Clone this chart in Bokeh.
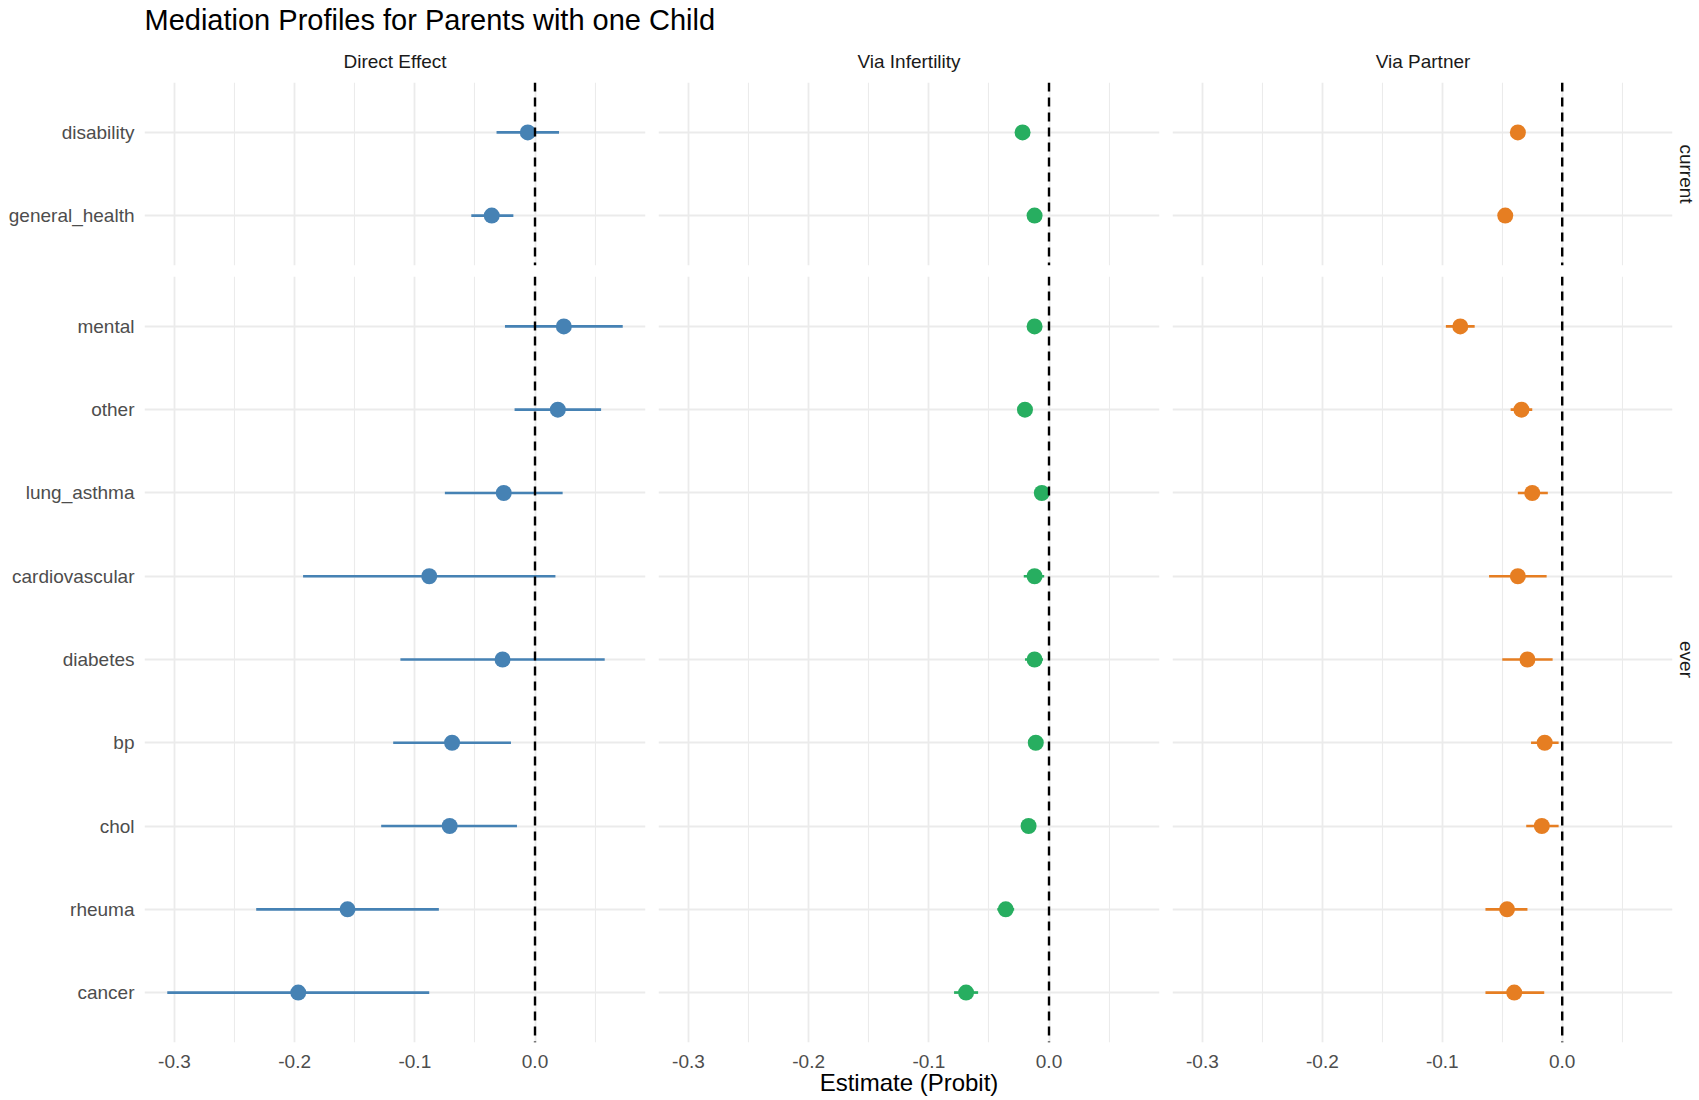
from bokeh.plotting import figure
from bokeh.layouts import column, row
from bokeh.models import (FactorRange, Range1d, Span, FixedTicker,
                          PrintfTickFormatter, Title, ColumnDataSource)
from bokeh.embed import file_html
from bokeh.resources import INLINE
from bokeh.core.properties import value

# ---------------- data ----------------
title_text = "Mediation Profiles for Parents with one Child"
x_axis_title = "Estimate (Probit)"
panels = ["Direct Effect", "Via Infertility", "Via Partner"]
panel_colors = ["#4682B4", "#27AE60", "#E67E22"]
groups = ["current", "ever"]
current_items = ["disability", "general_health"]
ever_items = ["mental", "other", "lung_asthma", "cardiovascular", "diabetes",
              "bp", "chol", "rheuma", "cancer"]
x_ticks = [-0.3, -0.2, -0.1, 0.0]
x_minor_ticks = [-0.25, -0.15, -0.05, 0.05]

# Direct Effect
direct_current_est = [-0.006, -0.036]
direct_current_lo = [-0.032, -0.053]
direct_current_hi = [0.020, -0.018]
direct_ever_est = [0.024, 0.019, -0.026, -0.088, -0.027, -0.069, -0.071, -0.156, -0.197]
direct_ever_lo = [-0.025, -0.017, -0.075, -0.193, -0.112, -0.118, -0.128, -0.232, -0.306]
direct_ever_hi = [0.073, 0.055, 0.023, 0.017, 0.058, -0.020, -0.015, -0.080, -0.088]

# Via Infertility
infert_current_est = [-0.022, -0.012]
infert_current_lo = [-0.025, -0.015]
infert_current_hi = [-0.019, -0.009]
infert_ever_est = [-0.012, -0.020, -0.006, -0.012, -0.012, -0.011, -0.017, -0.036, -0.069]
infert_ever_lo = [-0.016, -0.024, -0.009, -0.021, -0.020, -0.015, -0.021, -0.043, -0.079]
infert_ever_hi = [-0.008, -0.016, -0.003, -0.004, -0.005, -0.007, -0.013, -0.029, -0.059]

# Via Partner
partner_current_est = [-0.037, -0.0475]
partner_current_lo = [-0.040, -0.051]
partner_current_hi = [-0.034, -0.044]
partner_ever_est = [-0.085, -0.034, -0.025, -0.037, -0.029, -0.0146, -0.017, -0.046, -0.040]
partner_ever_lo = [-0.097, -0.043, -0.037, -0.061, -0.050, -0.026, -0.030, -0.064, -0.064]
partner_ever_hi = [-0.073, -0.025, -0.012, -0.013, -0.008, -0.003, -0.003, -0.029, -0.015]

panel_data = {
    ("Direct Effect", "current"): (direct_current_est, direct_current_lo, direct_current_hi),
    ("Direct Effect", "ever"): (direct_ever_est, direct_ever_lo, direct_ever_hi),
    ("Via Infertility", "current"): (infert_current_est, infert_current_lo, infert_current_hi),
    ("Via Infertility", "ever"): (infert_ever_est, infert_ever_lo, infert_ever_hi),
    ("Via Partner", "current"): (partner_current_est, partner_current_lo, partner_current_hi),
    ("Via Partner", "ever"): (partner_ever_est, partner_ever_lo, partner_ever_hi),
}
group_items = {"current": current_items, "ever": ever_items}

# ---------------- layout constants ----------------
FONT = "Liberation Sans"
PANEL_W = 501
GAP = 13
LEFT = 144
RIGHT = 26
HEADER_H = 82
TOP_H = 183
TOP_GAP = 11
BOT_H = 766
BOTTOM_BORDER = 58
GRID_COLOR = "#EBEBEB"

all_lo = [v for k in panel_data for v in panel_data[k][1]]
all_hi = [v for k in panel_data for v in panel_data[k][2]]
x_min, x_max = min(all_lo), max(all_hi)
pad = 0.05 * (x_max - x_min)

frame_total = 3 * PANEL_W + 2 * GAP
total_w = LEFT + frame_total + RIGHT

# ---------------- header (title + strip labels) ----------------
header = figure(width=total_w, height=HEADER_H,
                x_range=FactorRange(factors=panels, factor_padding=GAP / PANEL_W),
                y_range=Range1d(0, 1), title=title_text,
                output_backend="svg", toolbar_location=None,
                min_border_left=LEFT, min_border_right=RIGHT,
                min_border_top=0, min_border_bottom=0)
header.axis.visible = False
header.grid.visible = False
header.outline_line_color = None
header.title.align = "left"
header.title.text_font = FONT
header.title.text_font_size = "29px"
header.title.text_font_style = "normal"
header.title.text_color = "#000000"
header.title.standoff = 2
hsrc = ColumnDataSource(dict(x=panels, label=panels))
header.text(x="x", y=0.45, text="label", source=hsrc, text_align="center",
            text_baseline="middle", text_font=value(FONT),
            text_font_size="19px", text_color="#1A1A1A")


def make_panel(panel_idx, group):
    panel = panels[panel_idx]
    items = group_items[group]
    est, lo, hi = panel_data[(panel, group)]
    color = panel_colors[panel_idx]
    is_left = panel_idx == 0
    is_right = panel_idx == 2
    is_bottom = group == "ever"
    left_b = LEFT if is_left else 0
    right_b = RIGHT if is_right else GAP
    frame_h = BOT_H if is_bottom else TOP_H
    bottom_b = BOTTOM_BORDER if is_bottom else TOP_GAP

    y_range = FactorRange(factors=list(reversed(items)), range_padding=0.1,
                          range_padding_units="absolute")
    p = figure(width=left_b + PANEL_W + right_b, height=frame_h + bottom_b,
               x_range=Range1d(x_min - pad, x_max + pad), y_range=y_range,
               output_backend="svg", toolbar_location=None,
               min_border_left=left_b, min_border_right=right_b,
               min_border_top=0, min_border_bottom=bottom_b)
    p.outline_line_color = None
    p.background_fill_color = "white"
    p.border_fill_color = "white"

    ticker = FixedTicker(ticks=x_ticks, minor_ticks=x_minor_ticks)
    p.xaxis.ticker = ticker
    p.xaxis.formatter = PrintfTickFormatter(format="%.1f")
    p.xgrid.ticker = ticker
    p.xgrid.grid_line_color = GRID_COLOR
    p.xgrid.grid_line_width = 1.8
    p.xgrid.minor_grid_line_color = GRID_COLOR
    p.xgrid.minor_grid_line_width = 1.1
    p.ygrid.grid_line_color = GRID_COLOR
    p.ygrid.grid_line_width = 1.8

    p.axis.axis_line_color = None
    p.axis.major_tick_line_color = None
    p.axis.minor_tick_line_color = None
    p.axis.major_tick_out = 0
    p.axis.minor_tick_out = 0
    p.axis.major_tick_in = 0
    p.axis.major_label_text_font = FONT
    p.axis.major_label_text_font_size = "19px"
    p.axis.major_label_text_color = "#4D4D4D"
    p.yaxis.major_label_standoff = 10
    p.xaxis.major_label_standoff = 12

    p.yaxis.visible = is_left
    p.xaxis.visible = is_bottom
    if is_bottom and panel_idx == 1:
        p.xaxis.axis_label = x_axis_title
        p.xaxis.axis_label_text_font = FONT
        p.xaxis.axis_label_text_font_size = "24px"
        p.xaxis.axis_label_text_font_style = "normal"
        p.xaxis.axis_label_text_color = "#000000"
        p.xaxis.axis_label_standoff = -2

    p.add_layout(Span(location=0, dimension="height", line_color="black",
                      line_width=2.4, line_dash="9 6"))

    src = ColumnDataSource(dict(item=items, est=est, lo=lo, hi=hi))
    p.segment(x0="lo", x1="hi", y0="item", y1="item", source=src,
              line_color=color, line_width=2.7)
    p.scatter(x="est", y="item", source=src, size=16, fill_color=color,
              line_color=color, line_width=0)

    if is_right:
        t = Title(text=group, align="center", vertical_align="middle",
                  text_font=FONT, text_font_size="19px",
                  text_font_style="normal", text_color="#1A1A1A", standoff=4)
        p.add_layout(t, "right")
    return p


top_row = row(*[make_panel(i, "current") for i in range(3)], spacing=0)
bot_row = row(*[make_panel(i, "ever") for i in range(3)], spacing=0)
layout = column(header, top_row, bot_row, spacing=0)

open("out.html", "w").write(file_html(layout, INLINE))
